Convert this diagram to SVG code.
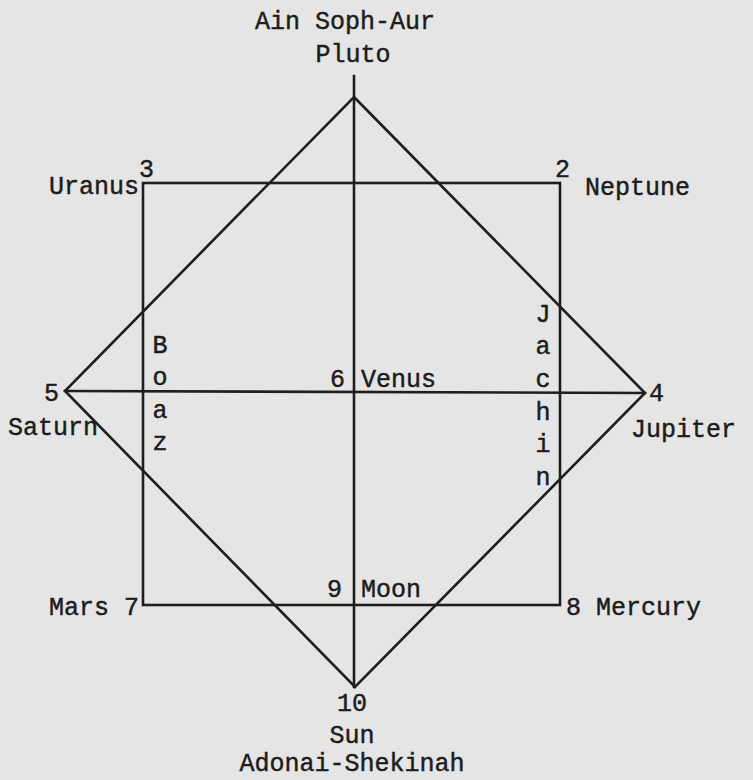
<svg xmlns="http://www.w3.org/2000/svg" width="753" height="780" viewBox="0 0 753 780">
<style>
.ln{stroke:#1e1e1e;stroke-width:2.6;fill:none;stroke-linecap:square}
text{font-family:"Liberation Mono","DejaVu Sans Mono",monospace;font-size:25px;fill:#1c1c1c;stroke:#1c1c1c;stroke-width:0.45}
.m{text-anchor:middle}
.e{text-anchor:end}
</style>
<rect width="753" height="780" fill="#e5e5e5"/>
<g id="connectors">
<line class="ln" x1="354" y1="76" x2="354" y2="687"/>
<line class="ln" x1="65" y1="391" x2="645" y2="393"/>
<rect class="ln" x="143" y="183" width="417" height="422"/>
<polygon class="ln" points="354,97 645,393 355,687 65,391"/>
</g>
<g id="n1"><text class="m" x="345" y="29">Ain Soph-Aur</text><text class="m" x="353" y="62">Pluto</text></g>
<g id="n2"><text x="555" y="177">2</text><text x="585" y="195">Neptune</text></g>
<g id="n3"><text x="139" y="177">3</text><text class="e" x="139" y="194">Uranus</text></g>
<g id="n4"><text x="649" y="401">4</text><text x="631" y="437">Jupiter</text></g>
<g id="n5"><text x="44" y="401">5</text><text x="8" y="435">Saturn</text></g>
<g id="n6"><text x="330" y="387">6</text><text x="361" y="387">Venus</text></g>
<g id="n7"><text class="e" x="139" y="615">Mars 7</text></g>
<g id="n8"><text x="566" y="615">8 Mercury</text></g>
<g id="n9"><text x="327" y="597">9</text><text x="361" y="597">Moon</text></g>
<g id="n10"><text class="m" x="352" y="711">10</text><text class="m" x="352" y="743">Sun</text><text class="m" x="352" y="771">Adonai-Shekinah</text></g>
<g id="boaz"><text class="m" x="160" y="353">B</text><text class="m" x="160" y="385">o</text><text class="m" x="160" y="418">a</text><text class="m" x="160" y="450">z</text></g>
<g id="jachin"><text class="m" x="543" y="322">J</text><text class="m" x="543" y="354">a</text><text class="m" x="543" y="387">c</text><text class="m" x="543" y="420">h</text><text class="m" x="543" y="452">i</text><text class="m" x="543" y="485">n</text></g>
</svg>
